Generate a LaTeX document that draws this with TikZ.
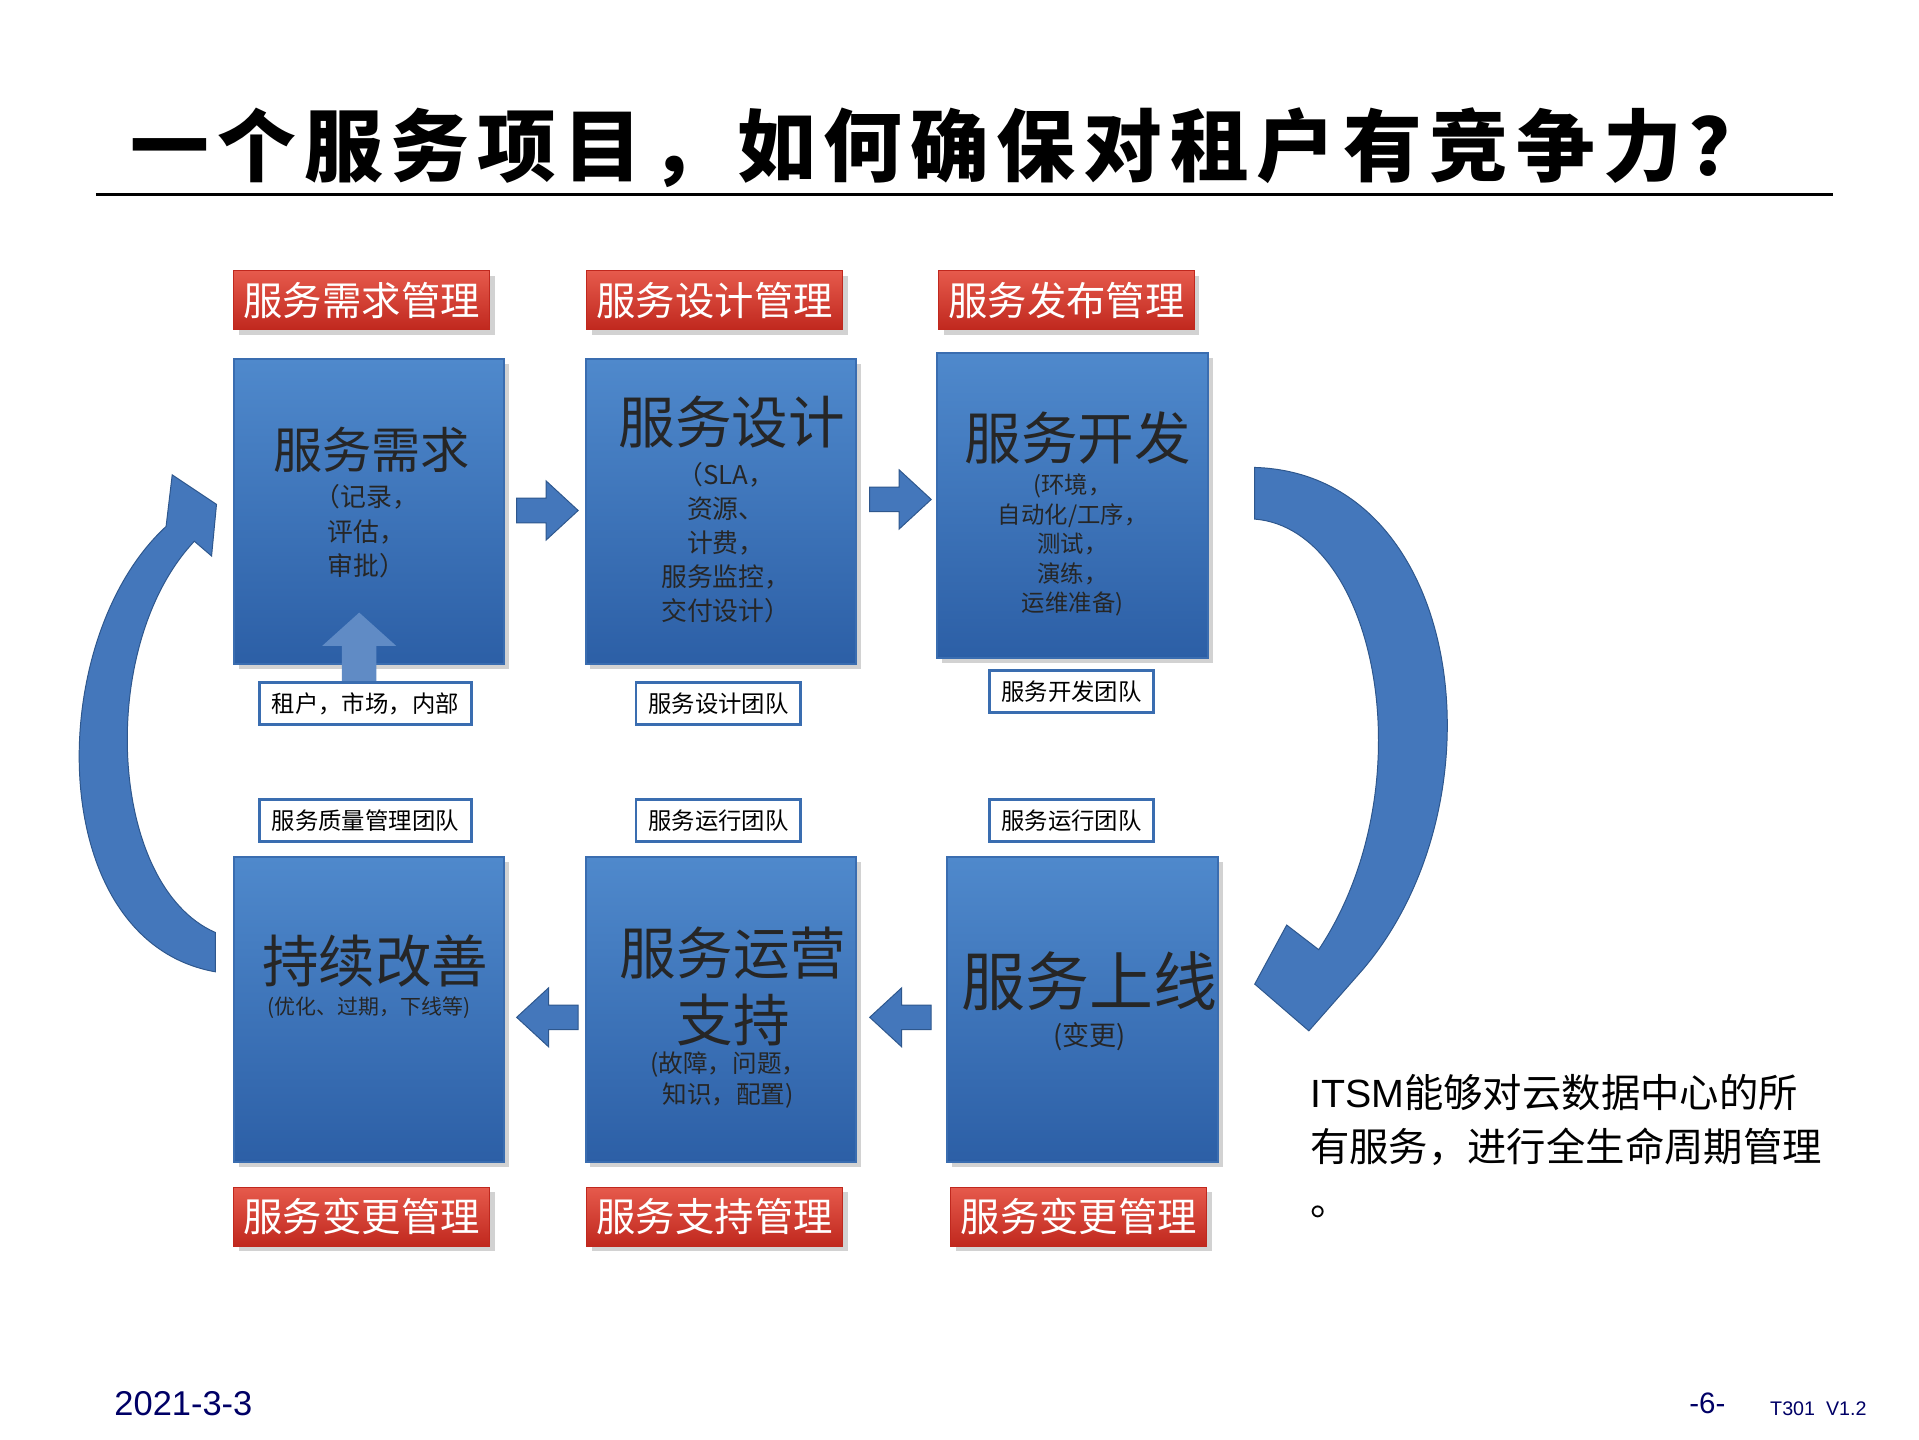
\documentclass[tikz,border=0pt]{standalone}
\usepackage{fontspec}
\setmainfont{Noto Sans CJK SC}[AutoFakeBold=2]
\newfontfamily\lat{Liberation Sans}
\newfontfamily\titlefont{Noto Sans CJK SC}[LetterSpace=10]
\usetikzlibrary{shadows}
\definecolor{bluetop}{HTML}{4F89CC}
\definecolor{bluebot}{HTML}{2C5FA6}
\definecolor{blueedge}{HTML}{3A6DB0}
\definecolor{redtop}{HTML}{E65A4C}
\definecolor{redbot}{HTML}{C0281E}
\definecolor{arrowblue}{HTML}{4477BB}
\tikzset{
 bbox/.style={draw=blueedge,line width=0.8pt,top color=bluetop,bottom color=bluebot,minimum width=110pt,minimum height=124pt,inner sep=0pt,drop shadow={opacity=0.35,shadow xshift=2pt,shadow yshift=-2pt}},
 rbox/.style={draw=redbot,top color=redtop,bottom color=redbot,minimum width=104pt,minimum height=24pt,inner sep=0pt,text=white,font=\fontsize{16}{18}\selectfont,drop shadow={opacity=0.35,shadow xshift=2pt,shadow yshift=-2pt}},
 wbox/.style={draw=blueedge,line width=1.2pt,fill=white,minimum height=17pt,inner sep=2pt,font=\fontsize{9.5}{11}\selectfont},
 btxt/.style={align=center,text=black!85},
 arr/.style={fill=arrowblue,draw=blueedge!80!black,line width=0.4pt},
}
\begin{document}
\begin{tikzpicture}[x=0.5pt,y=-0.5pt]
\useasboundingbox (0,0) rectangle (1560,1170);
\fill[white] (0,0) rectangle (1560,1170);
% title
\node[font=\titlefont\fontsize{32}{36}\selectfont\bfseries] (title) at (772,120) {一个服务项目，如何确保对租户有竞争力？};
\draw[line width=1pt] (78,158) -- (1490,158);
% red labels
\node[rbox] (r1) at (294,244) {服务需求管理};
\node[rbox] (r2) at (581,244) {服务设计管理};
\node[rbox] (r3) at (867,244) {服务发布管理};
\node[rbox] (r4) at (294,989) {服务变更管理};
\node[rbox] (r5) at (581,989) {服务支持管理};
\node[rbox] (r6) at (877,989) {服务变更管理};
% blue boxes
\node[bbox] (b1) at (300,416) {};
\node[bbox] (b2) at (586,416) {};
\node[bbox] (b3) at (872,411) {};
\node[bbox] (b4) at (300,821) {};
\node[bbox] (b5) at (586,821) {};
\node[bbox] (b6) at (880,821) {};
% up arrow in b1
\fill[arrowblue!85!white] (292,498) -- (322,525) -- (306,525) -- (306,556) -- (278,556) -- (278,525) -- (262,525) -- cycle;
% texts
\node[btxt,font=\fontsize{20}{22}\selectfont] (t1) at (302,366) {服务需求};
\node[btxt,font=\fontsize{10.5}{14}\selectfont] (s1) at (298,432) {（记录，\\评估，\\审批）};
\node[btxt,font=\fontsize{23}{25}\selectfont] (t2) at (595,343) {服务设计};
\node[btxt,font=\fontsize{10.5}{13.8}\selectfont] (s2) at (590,441) {（SLA，\\资源、\\计费，\\服务监控，\\交付设计）};
\node[btxt,font=\fontsize{23}{25}\selectfont] (t3) at (876,356) {服务开发};
\node[btxt,font=\fontsize{9.5}{12}\selectfont] (s3) at (872,443) {(环境，\\自动化/工序，\\测试，\\演练，\\运维准备)};
\node[btxt,font=\fontsize{23}{25}\selectfont] (t4) at (305,781) {持续改善};
\node[btxt,font=\fontsize{8.5}{10}\selectfont] (s4) at (300,819) {(优化、过期，下线等)};
\node[btxt,font=\fontsize{23}{27}\selectfont] (t5) at (596,802) {服务运营\\支持};
\node[btxt,font=\fontsize{10}{12.5}\selectfont] (s5) at (592,878) {(故障，问题，\\知识，配置)};
\node[btxt,font=\fontsize{26}{28}\selectfont] (t6) at (886,798) {服务上线};
\node[btxt,font=\fontsize{11}{13}\selectfont] (s6) at (886,843) {(变更)};
% white labels
\node[wbox,minimum width=86pt] (w1) at (297,572) {租户，市场，内部};
\node[wbox,minimum width=67pt] (w2) at (584,572) {服务设计团队};
\node[wbox,minimum width=67pt] (w3) at (871,562) {服务开发团队};
\node[wbox,minimum width=86pt] (w4) at (297,667) {服务质量管理团队};
\node[wbox,minimum width=67pt] (w5) at (584,667) {服务运行团队};
\node[wbox,minimum width=67pt] (w6) at (871,667) {服务运行团队};
% small arrows right
\foreach \x/\y in {420/415,707/406}{
 \draw[arr] (\x,\y-10) -- (\x+24,\y-10) -- (\x+24,\y-24) -- (\x+50,\y) -- (\x+24,\y+24) -- (\x+24,\y+10) -- (\x,\y+10) -- cycle;}
% small arrows left
\foreach \x/\y in {470/827,757/827}{
 \draw[arr] (\x,\y-10) -- (\x-24,\y-10) -- (\x-24,\y-24) -- (\x-50,\y) -- (\x-24,\y+24) -- (\x-24,\y+10) -- (\x,\y+10) -- cycle;}
% big right curved arrow
\draw[arr] (1020,380) .. controls (1190,385) and (1225,650) .. (1108,788) -- (1064,838) -- (1020,800) -- (1046,752) -- (1072,772) .. controls (1160,640) and (1120,430) .. (1020,422) -- cycle;
% big left curved arrow
\draw[arr] (175,790) .. controls (35,765) and (35,520) .. (135,428) -- (140,386) -- (176,410) -- (172,452) -- (158,440) .. controls (78,525) and (88,720) .. (175,758) -- cycle;
% right text
\node[anchor=north west,align=left,font=\fontsize{16}{22}\selectfont] (itsm) at (1058,866) {{\lat ITSM}能够对云数据中心的所\\有服务，进行全生命周期管理\\。};
% footer
\node[anchor=west,font=\lat\fontsize{14}{16}\selectfont,text=blue!40!black] (date) at (86,1141) {2021-3-3};
\node[font=\lat\fontsize{12}{14}\selectfont,text=blue!40!black] (pg) at (1388,1141) {-6-};
\node[anchor=west,font=\lat\fontsize{8}{10}\selectfont,text=blue!40!black] (ver) at (1432,1145) {T301\ \ V1.2};
\end{tikzpicture}
\end{document}
